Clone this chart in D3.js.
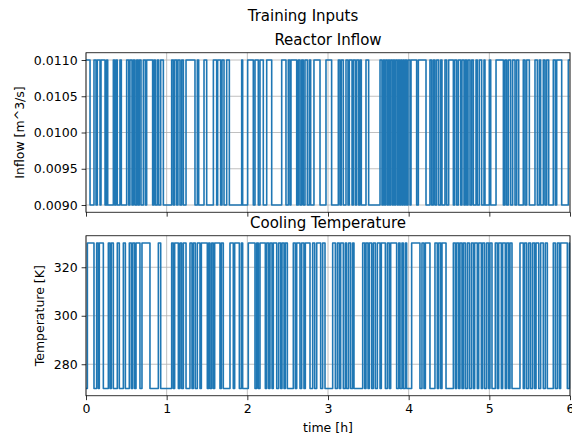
<!DOCTYPE html>
<html lang="en">
<head>
<meta charset="UTF-8">
<title>Training Inputs</title>
<script src="https://cdn.jsdelivr.net/npm/d3@7"></script>
<style>
    body { margin: 0; background: #fff; }
    svg text { font-family: "DejaVu Sans", sans-serif; fill: #000; }
    .tick text { font-size: 12.5px; }
    .grid line { stroke: #b0b0b0; stroke-width: 0.8; }
    .axis path, .axis line { stroke: #000; stroke-width: 0.8; }
</style>
</head>
<body>
<svg id="canvas" width="572" height="437"></svg>
<script>
    // time axis
    const timeTicks = [0, 1, 2, 3, 4, 5, 6];

    // reactor inflow: two levels, start level, switch times in hours
    const inflowLevels = [0.009, 0.011];
    const inflowTicks = [0.0090, 0.0095, 0.0100, 0.0105, 0.0110];
    const inflowStart = 1;
    const inflowSwitch = [0.050, 0.099, 0.124, 0.140, 0.174, 0.186, 0.236, 0.256, 0.269, 0.339,
        0.355, 0.372, 0.388, 0.421, 0.438, 0.504, 0.529, 0.545, 0.570, 0.587, 0.607, 0.628, 0.645,
        0.661, 0.682, 0.711, 0.736, 0.752, 0.826, 0.843, 0.860, 0.884, 0.901, 0.926, 0.959, 1.062,
        1.083, 1.099, 1.124, 1.140, 1.165, 1.186, 1.207, 1.240, 1.351, 1.380, 1.397, 1.463, 1.496,
        1.579, 1.620, 1.632, 1.669, 1.686, 1.711, 1.744, 1.777, 1.930, 1.942, 2.004, 2.074, 2.095,
        2.136, 2.157, 2.198, 2.240, 2.302, 2.426, 2.479, 2.508, 2.529, 2.541, 2.612, 2.632, 2.653,
        2.674, 2.694, 2.715, 2.744, 2.769, 2.785, 2.826, 2.901, 2.975, 3.045, 3.128, 3.149, 3.165,
        3.190, 3.223, 3.248, 3.264, 3.298, 3.314, 3.339, 3.355, 3.380, 3.397, 3.413, 3.471, 3.504,
        3.645, 3.669, 3.686, 3.702, 3.715, 3.736, 3.748, 3.764, 3.777, 3.798, 3.810, 3.826, 3.839,
        3.860, 3.872, 3.888, 3.901, 3.917, 3.930, 3.946, 3.959, 3.975, 3.992, 4.017, 4.029, 4.099,
        4.120, 4.215, 4.264, 4.285, 4.306, 4.326, 4.347, 4.372, 4.397, 4.413, 4.450, 4.471, 4.496,
        4.554, 4.570, 4.595, 4.616, 4.645, 4.661, 4.686, 4.702, 4.719, 4.736, 4.760, 4.781, 4.802,
        4.835, 4.851, 4.876, 4.905, 4.934, 4.946, 5.000, 5.017, 5.083, 5.174, 5.194, 5.215, 5.236,
        5.264, 5.289, 5.318, 5.339, 5.364, 5.421, 5.442, 5.463, 5.496, 5.566, 5.595, 5.620, 5.636,
        5.669, 5.690, 5.711, 5.736, 5.793, 5.818, 5.835, 5.897, 5.979];

    // cooling temperature
    const tempLevels = [270, 330];
    const tempTicks = [280, 300, 320];
    const tempStart = 0;
    const tempSwitch = [0.017, 0.099, 0.132, 0.153, 0.165, 0.215, 0.277, 0.298, 0.314, 0.339,
        0.388, 0.413, 0.463, 0.488, 0.537, 0.562, 0.579, 0.603, 0.620, 0.669, 0.694, 0.793, 0.897,
        0.926, 1.062, 1.083, 1.099, 1.145, 1.165, 1.186, 1.207, 1.240, 1.289, 1.314, 1.331, 1.355,
        1.380, 1.413, 1.430, 1.504, 1.521, 1.537, 1.558, 1.579, 1.595, 1.661, 1.678, 1.702, 1.785,
        1.826, 1.843, 1.901, 1.926, 1.942, 2.012, 2.095, 2.116, 2.136, 2.157, 2.223, 2.240, 2.264,
        2.281, 2.306, 2.322, 2.364, 2.388, 2.413, 2.430, 2.455, 2.471, 2.496, 2.570, 2.595, 2.612,
        2.653, 2.674, 2.702, 2.719, 2.777, 2.810, 2.835, 2.860, 2.909, 2.934, 2.963, 3.058, 3.091,
        3.116, 3.140, 3.157, 3.190, 3.215, 3.231, 3.256, 3.281, 3.306, 3.322, 3.430, 3.455, 3.471,
        3.496, 3.512, 3.541, 3.562, 3.587, 3.612, 3.645, 3.661, 3.711, 3.736, 3.760, 3.777, 3.851,
        3.876, 3.893, 3.917, 3.934, 3.959, 3.975, 4.037, 4.140, 4.165, 4.190, 4.207, 4.264, 4.326,
        4.355, 4.372, 4.397, 4.413, 4.463, 4.554, 4.579, 4.595, 4.620, 4.636, 4.661, 4.678, 4.702,
        4.727, 4.752, 4.777, 4.802, 4.818, 4.851, 4.868, 4.901, 4.917, 4.942, 4.967, 4.992, 5.008,
        5.033, 5.074, 5.099, 5.116, 5.149, 5.165, 5.198, 5.215, 5.240, 5.256, 5.281, 5.380, 5.421,
        5.438, 5.463, 5.488, 5.512, 5.537, 5.562, 5.579, 5.612, 5.636, 5.669, 5.694, 5.719, 5.793,
        5.818, 5.843, 5.868, 5.884, 5.967, 5.992];

    let svg = d3.select('#canvas');

    let x = d3.scaleLinear().domain([0, 6]).range([86, 570]);

    // turn switch times into step points
    function toPoints(start, switches, levels) {
        let pts = [[0, levels[start]]];
        let lvl = start;
        switches.forEach(t => { lvl = 1 - lvl; pts.push([t, levels[lvl]]); });
        pts.push([6, levels[lvl]]);
        return pts;
    }

    function panel(opts) {
        let y = d3.scaleLinear().domain(opts.domain).range([opts.bottom, opts.top]);
        let g = svg.append('g');

        // grid
        let grid = g.append('g').attr('class', 'grid');
        grid.selectAll('.gx').data(timeTicks).enter().append('line')
            .attr('x1', d => x(d)).attr('x2', d => x(d))
            .attr('y1', opts.top).attr('y2', opts.bottom);
        grid.selectAll('.gy').data(opts.ticks).enter().append('line')
            .attr('x1', 86).attr('x2', 570)
            .attr('y1', d => y(d)).attr('y2', d => y(d));

        // signal
        let line = d3.line().x(d => x(d[0])).y(d => y(d[1])).curve(d3.curveStepAfter);
        g.append('path')
            .datum(toPoints(opts.start, opts.switches, opts.levels))
            .attr('d', line)
            .attr('fill', 'none')
            .attr('stroke', '#1f77b4')
            .attr('stroke-width', 1.6)
            .attr('stroke-linejoin', 'round');

        // axes
        let xAxis = d3.axisBottom(x).tickValues(timeTicks).tickFormat(opts.xLabels ? d3.format('d') : '')
            .tickSizeOuter(0).tickSize(4.4).tickPadding(4);
        let gx = g.append('g').attr('class', 'axis').attr('transform', `translate(0,${opts.bottom})`).call(xAxis);
        gx.select('.domain').remove();

        let yAxis = d3.axisLeft(y).tickValues(opts.ticks).tickFormat(opts.fmt)
            .tickSizeOuter(0).tickSize(4.4).tickPadding(4);
        let gy = g.append('g').attr('class', 'axis').attr('transform', 'translate(86,0)').call(yAxis);
        gy.select('.domain').remove();

        g.append('rect')
            .attr('x', 86).attr('y', opts.top)
            .attr('width', 484).attr('height', opts.bottom - opts.top)
            .attr('fill', 'none').attr('stroke', '#000').attr('stroke-width', 0.8);

        g.append('text')
            .attr('x', 328).attr('y', opts.top - 8)
            .attr('text-anchor', 'middle').style('font-size', '15px')
            .text(opts.title);

        g.append('text')
            .attr('transform', `translate(${opts.ylabelX},${(opts.top + opts.bottom) / 2}) rotate(-90)`)
            .attr('text-anchor', 'middle').style('font-size', '12.5px')
            .text(opts.ylabel);
    }

    panel({
        domain: [0.0089, 0.0111], top: 52.75, bottom: 212.25,
        ticks: inflowTicks, fmt: d3.format('.4f'),
        levels: inflowLevels, start: inflowStart, switches: inflowSwitch,
        title: 'Reactor Inflow', ylabel: 'Inflow [m^3/s]', ylabelX: 24, xLabels: false
    });

    panel({
        domain: [267, 333], top: 235.75, bottom: 395.75,
        ticks: tempTicks, fmt: d3.format('d'),
        levels: tempLevels, start: tempStart, switches: tempSwitch,
        title: 'Cooling Temperature', ylabel: 'Temperature [K]', ylabelX: 44, xLabels: true
    });

    svg.append('text')
        .attr('x', 303).attr('y', 21)
        .attr('text-anchor', 'middle').style('font-size', '15px')
        .text('Training Inputs');

    svg.append('text')
        .attr('x', 328).attr('y', 432)
        .attr('text-anchor', 'middle').style('font-size', '12.5px')
        .text('time [h]');
</script>
</body>
</html>
